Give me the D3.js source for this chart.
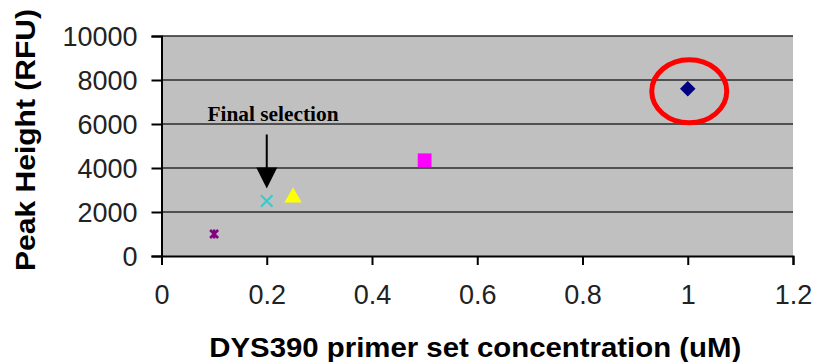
<!DOCTYPE html>
<html>
<head>
<meta charset="utf-8">
<script src="https://cdn.jsdelivr.net/npm/d3@7"></script>
<style>
  html, body { margin: 0; padding: 0; background: #ffffff; }
  svg { display: block; }
  .tick text { font-family: "Liberation Sans", Arial, sans-serif; }
</style>
</head>
<body>
<svg id="chart" width="817" height="362"></svg>
<script>
// Primer concentration (uM) and measured peak heights (RFU)
const concentrations = [0.1, 0.2, 0.25, 0.5, 1.0];
const peakHeights    = [1000, 2500, 2700, 4350, 7600];
const markerShapes   = ["star", "cross", "triangle", "square", "diamond"];
const markerColors   = ["#800080", "#33cccc", "#ffff00", "#ff00ff", "#000080"];

const xTicks = [0, 0.2, 0.4, 0.6, 0.8, 1, 1.2];
const yTicks = [0, 2000, 4000, 6000, 8000, 10000];

const xTitle = "DYS390 primer set concentration (uM)";
const yTitle = "Peak Height (RFU)";
const noteText = "Final selection";
const selectedIndex = 1;     // point picked by the arrow
const highlightIndex = 4;    // point ringed in red

const plot = { left: 161.5, right: 793, top: 36, bottom: 256 };

const svg = d3.select("#chart");

const x = d3.scaleLinear().domain([0, 1.2]).range([plot.left, plot.right]);
const y = d3.scaleLinear().domain([0, 10000]).range([plot.bottom, plot.top]);

// plot background
svg.append("rect")
  .attr("x", plot.left).attr("y", plot.top)
  .attr("width", plot.right - plot.left).attr("height", plot.bottom - plot.top)
  .attr("fill", "#c0c0c0");

// horizontal gridlines
svg.append("g").selectAll("line")
  .data(yTicks.filter(d => d > 0))
  .join("line")
  .attr("x1", plot.left).attr("x2", plot.right)
  .attr("y1", d => y(d)).attr("y2", d => y(d))
  .attr("stroke", "#2b2b2b").attr("stroke-width", 1.6);

// y axis
const yAxis = svg.append("g")
  .attr("transform", `translate(${plot.left},0)`)
  .call(d3.axisLeft(y).tickValues(yTicks).tickSize(10).tickPadding(14).tickFormat(d3.format("d")));
yAxis.select(".domain").attr("stroke", "#000").attr("stroke-width", 2);
yAxis.selectAll(".tick line").attr("stroke", "#000").attr("stroke-width", 2);
yAxis.selectAll(".tick text")
  .attr("font-size", 27).attr("fill", "#222").attr("dy", "0.36em");

// x axis
const xAxis = svg.append("g")
  .attr("transform", `translate(0,${plot.bottom})`)
  .call(d3.axisBottom(x).tickValues(xTicks).tickSize(9).tickPadding(20).tickFormat(d => String(d)));
xAxis.select(".domain").attr("stroke", "#000").attr("stroke-width", 2);
xAxis.selectAll(".tick line").attr("stroke", "#000").attr("stroke-width", 2);
xAxis.selectAll(".tick text")
  .attr("font-size", 27).attr("fill", "#222");

// axis titles
svg.append("text")
  .attr("x", (plot.left + plot.right) / 2 - 2).attr("y", 357)
  .attr("text-anchor", "middle")
  .attr("font-family", "'Liberation Sans', Arial, sans-serif")
  .attr("font-weight", "bold").attr("font-size", 28)
  .attr("textLength", 532).attr("lengthAdjust", "spacingAndGlyphs")
  .attr("fill", "#000")
  .text(xTitle);

svg.append("text")
  .attr("transform", "translate(35,140) rotate(-90)")
  .attr("text-anchor", "middle")
  .attr("font-family", "'Liberation Sans', Arial, sans-serif")
  .attr("font-weight", "bold").attr("font-size", 27)
  .attr("textLength", 262).attr("lengthAdjust", "spacingAndGlyphs")
  .attr("fill", "#000")
  .text(yTitle);

// star marker: an x with a vertical bar through it
const symbolStar = {
  draw(context, size) {
    const r = Math.sqrt(size) / 2;
    context.moveTo(-r, -r); context.lineTo(r, r);
    context.moveTo(r, -r); context.lineTo(-r, r);
    context.moveTo(0, -r * 1.15); context.lineTo(0, r * 1.15);
  }
};

// markers
const symbolFor = {
  star: d3.symbol(symbolStar, 64),
  cross: d3.symbol(d3.symbolTimes, 90),
  triangle: d3.symbol(d3.symbolTriangle, 130),
  square: d3.symbol(d3.symbolSquare, 190),
  diamond: d3.symbol(d3.symbolSquare, 120)
};

const points = concentrations.map((c, i) => ({
  c, v: peakHeights[i], shape: markerShapes[i], color: markerColors[i]
}));

svg.append("g").selectAll("path")
  .data(points)
  .join("path")
  .attr("transform", d => {
    const t = `translate(${x(d.c)},${y(d.v)})`;
    if (d.shape === "diamond") return t + " rotate(45)";
    if (d.shape === "triangle") return t + " translate(0,1)";
    return t;
  })
  .attr("d", d => symbolFor[d.shape]())
  .attr("fill", d => (d.shape === "cross" || d.shape === "star") ? "none" : d.color)
  .attr("stroke", d => (d.shape === "cross" || d.shape === "star") ? d.color : "none")
  .attr("stroke-width", d => d.shape === "star" ? 2.5 : 2);

// red ring round the highest point
const hp = points[highlightIndex];
svg.append("ellipse")
  .attr("cx", x(hp.c) + 1.5).attr("cy", y(hp.v) + 2.5)
  .attr("rx", 37.5).attr("ry", 31.5)
  .attr("fill", "none").attr("stroke", "#ff0000").attr("stroke-width", 5);

// annotation: arrow pointing at the selected point
const sp = points[selectedIndex];
const ax = x(sp.c);
const tipY = y(sp.v) - 12.5;
svg.append("line")
  .attr("x1", ax).attr("x2", ax)
  .attr("y1", tipY - 54).attr("y2", tipY - 20)
  .attr("stroke", "#000").attr("stroke-width", 2);
svg.append("path")
  .attr("d", `M${ax - 10.5},${tipY - 21} L${ax + 10.5},${tipY - 21} L${ax},${tipY} Z`)
  .attr("fill", "#000");

svg.append("text")
  .attr("x", 207.5).attr("y", 121)
  .attr("font-family", "'Liberation Serif', 'Times New Roman', serif")
  .attr("font-weight", "bold").attr("font-size", 21)
  .attr("textLength", 131).attr("lengthAdjust", "spacingAndGlyphs")
  .attr("fill", "#000")
  .text(noteText);
</script>
</body>
</html>
